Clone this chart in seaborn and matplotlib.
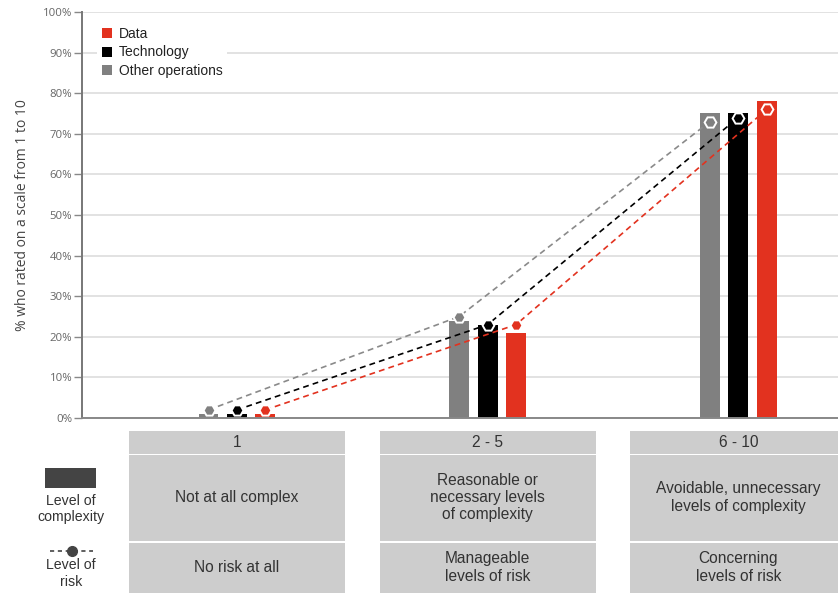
import matplotlib
matplotlib.use("Agg")
import matplotlib.pyplot as plt
from matplotlib.patches import Rectangle, Patch
from matplotlib.lines import Line2D
import numpy as np
import pandas as pd
import seaborn as sns

# ---- data -------------------------------------------------------------
categories = ["1", "2 - 5", "6 - 10"]
series = ["Other operations", "Technology", "Data"]
complexity_other = [1, 24, 75]
complexity_tech = [1, 23, 75]
complexity_data = [1, 21, 78]
risk_other = [2, 25, 73]
risk_tech = [2, 23, 74]
risk_data = [2, 23, 76]
y_ticks = [0, 10, 20, 30, 40, 50, 60, 70, 80, 90, 100]
complexity_text = ["Not at all complex",
                   "Reasonable or\nnecessary levels\nof complexity",
                   "Avoidable, unnecessary\nlevels of complexity"]
risk_text = ["No risk at all",
             "Manageable\nlevels of risk",
             "Concerning\nlevels of risk"]

colors = {"Other operations": "#808080", "Technology": "#000000", "Data": "#e2321f"}
line_colors = {"Other operations": "#8a8a8a", "Technology": "#000000", "Data": "#e2321f"}

df = pd.DataFrame({
    "scale": categories * 3,
    "series": sum([[s] * 3 for s in series], []),
    "value": complexity_other + complexity_tech + complexity_data,
})
risk = {"Other operations": risk_other, "Technology": risk_tech, "Data": risk_data}

# ---- style --------------------------------------------------------------
sns.set_style("white")
plt.rcParams["font.family"] = ["Liberation Sans", "DejaVu Sans"]

W, H = 838, 593
fig = plt.figure(figsize=(W / 100, H / 100), dpi=100)

def fx(px):
    return px / W

def fy(py):
    return 1 - py / H

ax_l, ax_r, ax_t, ax_b = 82, 838, 12, 418
ax = fig.add_axes([fx(ax_l), fy(ax_b), fx(ax_r - ax_l), (ax_b - ax_t) / H])

group_w = 0.34
sns.barplot(data=df, x="scale", y="value", hue="series", order=categories,
            hue_order=series, palette=colors, width=group_w, gap=0.3,
            saturation=1, legend=False, ax=ax, zorder=2, linewidth=0)

# dashed risk lines with hexagon markers
slot = group_w / len(series)
for i, s in enumerate(series):
    xs = np.arange(len(categories)) + (i - 1) * slot
    ax.plot(xs, risk[s], ls=(0, (3.5, 2.5)), lw=1.2, color=line_colors[s],
            marker="H", markersize=8.5, markerfacecolor=colors[s],
            markeredgecolor="white", markeredgewidth=1.4, zorder=4)

x0 = -0.618
x1 = x0 + (ax_r - ax_l) / 250.7
ax.set_xlim(x0, x1)
ax.set_ylim(0, 100)
ax.set_yticks(y_ticks)
ax.set_yticklabels([f"{t}%" for t in y_ticks], family=["Open Sans", "DejaVu Sans"],
                   fontsize=8.2, color="#666666")
ax.set_xticks([])
ax.set_xlabel("")
ax.set_ylabel("% who rated on a scale from 1 to 10", family=["Open Sans", "DejaVu Sans"],
              fontsize=10, color="#444444", labelpad=9)
ax.yaxis.grid(True, color="#e2e2e2", lw=1.4)
ax.set_axisbelow(True)
ax.tick_params(axis="y", length=6, width=1, color="#888888", pad=1, left=True)
for side in ["top", "right"]:
    ax.spines[side].set_visible(False)
ax.spines["left"].set_color("#777777")
ax.spines["left"].set_linewidth(1.4)
ax.spines["bottom"].set_color("#888888")
ax.spines["bottom"].set_linewidth(1.4)

handles = [Patch(facecolor=colors[s], edgecolor="none") for s in ["Data", "Technology", "Other operations"]]
leg = ax.legend(handles, ["Data", "Technology", "Other operations"],
                loc="upper left", bbox_to_anchor=(fx(97), fy(22)),
                bbox_transform=fig.transFigure, frameon=True, fontsize=10,
                handlelength=0.75, handleheight=0.75, handletextpad=0.45,
                labelspacing=0.33, borderpad=0.35, borderaxespad=0, fancybox=False)
leg.get_frame().set_facecolor("white")
leg.get_frame().set_edgecolor("none")
leg.get_frame().set_alpha(1)
for t in leg.get_texts():
    t.set_color("#222222")

# ---- description table below the chart ---------------------------------
tab = fig.add_axes([fx(ax_l), 0, fx(ax_r - ax_l), fy(425)])
tab.set_xlim(x0, x1)
tab.set_ylim(H, 425)
tab.axis("off")

col_w = 0.862
box = "#cdcdcd"
rows = [(431, 453.5), (455, 541), (543, 600)]
for i, cat in enumerate(categories):
    for (top, bot) in rows:
        tab.add_patch(Rectangle((i - col_w / 2, top), col_w, bot - top,
                                facecolor=box, edgecolor="none"))
    tab.text(i, 442.5, cat, ha="center", va="center", fontsize=11.2, color="#333333")
    tab.text(i, 497.5, complexity_text[i], ha="center", va="center", fontsize=11.2,
             color="#333333", linespacing=1.2)
    tab.text(i, 567.5, risk_text[i], ha="center", va="center", fontsize=11.2,
             color="#333333", linespacing=1.2)

# key for the table rows
fig.add_artist(Rectangle((fx(45), fy(488)), fx(51), 20 / H, facecolor="#444444",
                         edgecolor="none", transform=fig.transFigure))
fig.text(fx(71), fy(509), "Level of\ncomplexity", ha="center", va="center",
         fontsize=10.2, color="#333333", linespacing=1.25)
fig.add_artist(Line2D([fx(50), fx(93)], [fy(551), fy(551)], ls=(0, (2.5, 2.2)), lw=1.2,
                      color="#444444", marker=None, transform=fig.transFigure))
fig.add_artist(Line2D([fx(71.5)], [fy(551)], marker="o", markersize=7,
                      markerfacecolor="#444444", markeredgecolor="#444444",
                      transform=fig.transFigure))
fig.text(fx(71), fy(573.5), "Level of\nrisk", ha="center", va="center",
         fontsize=10.2, color="#333333", linespacing=1.25)

fig.savefig("out.png", dpi=100)
